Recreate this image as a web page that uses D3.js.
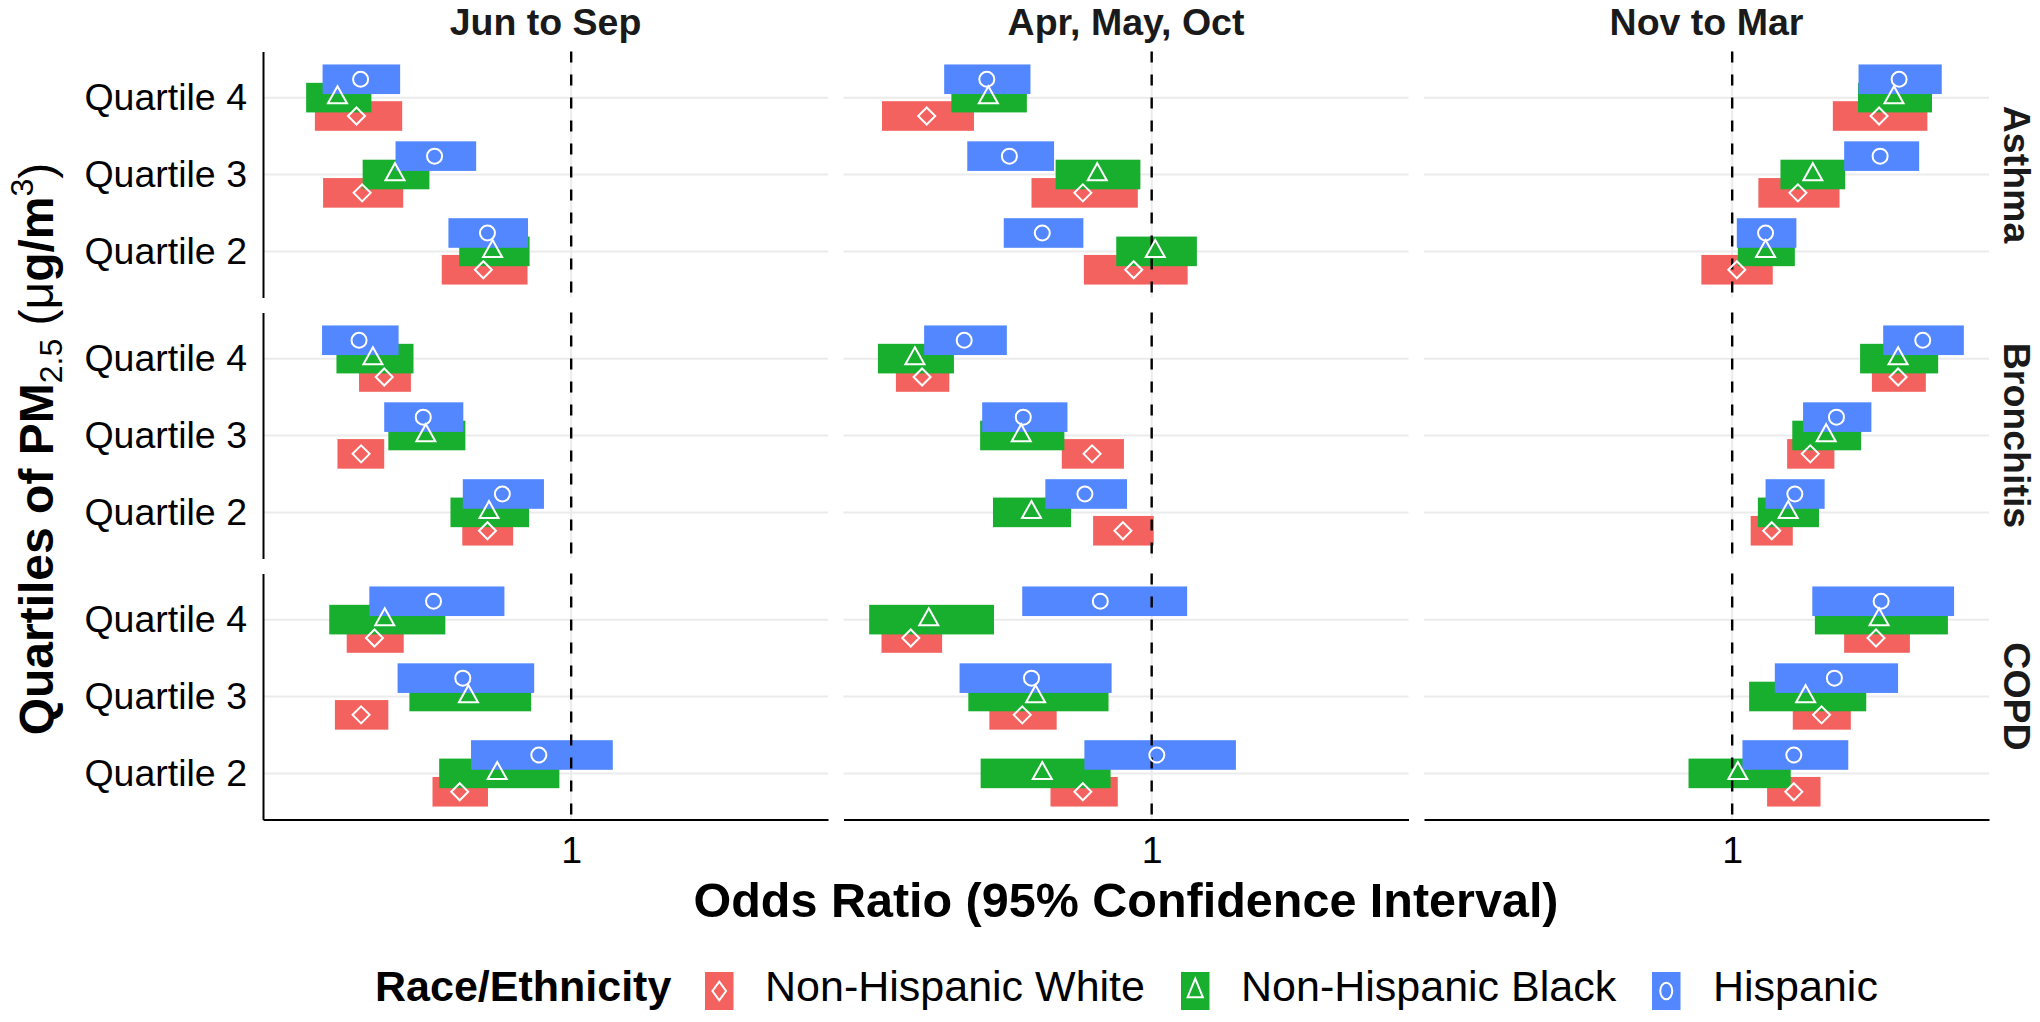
<!DOCTYPE html>
<html><head><meta charset="utf-8">
<script src="https://cdn.jsdelivr.net/npm/d3@7"></script>
<style>body{margin:0;background:#fff}svg{display:block}</style>
</head><body><svg id="c" width="2040" height="1022"></svg>
<script>
// ---------- data ----------
const seasons = ["Jun to Sep", "Apr, May, Oct", "Nov to Mar"];
const outcomes = ["Asthma", "Bronchitis", "COPD"];
const quartiles = ["Quartile 4", "Quartile 3", "Quartile 2"];
const groups = ["Non-Hispanic White", "Non-Hispanic Black", "Hispanic"];
const xTicks = [1];
// index = outcome*9 + season*3 + quartile (Q4,Q3,Q2)
const whiteEst = [
 0.9582, 0.9593, 0.9829, 0.9562, 0.9866, 0.9965, 1.0286, 1.0128, 1.0009,
 0.9636, 0.9591, 0.9837, 0.9553, 0.9884, 0.9944, 1.0323, 1.0152, 1.0077,
 0.9617, 0.9591, 0.9783, 0.9531, 0.9748, 0.9866, 1.0280, 1.0174, 1.0120];
const whiteLo = [
 0.9501, 0.9517, 0.9748, 0.9475, 0.9766, 0.9868, 1.0196, 1.0051, 0.9940,
 0.9587, 0.9545, 0.9788, 0.9502, 0.9825, 0.9886, 1.0272, 1.0107, 1.0036,
 0.9563, 0.9540, 0.9730, 0.9474, 0.9684, 0.9803, 1.0218, 1.0118, 1.0068];
const whiteHi = [
 0.9671, 0.9673, 0.9915, 0.9654, 0.9973, 1.0070, 1.0380, 1.0209, 1.0079,
 0.9688, 0.9636, 0.9887, 0.9606, 0.9946, 1.0004, 1.0377, 1.0199, 1.0118,
 0.9674, 0.9644, 0.9838, 0.9592, 0.9815, 0.9934, 1.0346, 1.0231, 1.0172];
const blackEst = [
 0.9545, 0.9657, 0.9847, 0.9682, 0.9894, 1.0007, 1.0315, 1.0157, 1.0065,
 0.9614, 0.9717, 0.9840, 0.9539, 0.9746, 0.9766, 1.0323, 1.0183, 1.0109,
 0.9637, 0.9800, 0.9856, 0.9566, 0.9774, 0.9787, 1.0286, 1.0143, 1.0011];
const blackLo = [
 0.9484, 0.9594, 0.9782, 0.9610, 0.9813, 0.9931, 1.0245, 1.0094, 1.0011,
 0.9543, 0.9644, 0.9765, 0.9467, 0.9666, 0.9691, 1.0249, 1.0117, 1.0050,
 0.9529, 0.9685, 0.9743, 0.9450, 0.9643, 0.9667, 1.0161, 1.0033, 0.9915];
const blackHi = [
 0.9611, 0.9724, 0.9919, 0.9757, 0.9978, 1.0088, 1.0389, 1.0220, 1.0122,
 0.9693, 0.9794, 0.9918, 0.9615, 0.9830, 0.9843, 1.0401, 1.0251, 1.0169,
 0.9755, 0.9922, 0.9977, 0.9693, 0.9916, 0.9920, 1.0420, 1.0261, 1.0114];
const hispEst = [
 0.9590, 0.9734, 0.9837, 0.9679, 0.9723, 0.9787, 1.0325, 1.0288, 1.0065,
 0.9587, 0.9712, 0.9866, 0.9635, 0.9750, 0.9870, 1.0371, 1.0203, 1.0122,
 0.9732, 0.9789, 0.9937, 0.9900, 0.9766, 1.0010, 1.0290, 1.0199, 1.0120];
const hispLo = [
 0.9516, 0.9658, 0.9761, 0.9596, 0.9641, 0.9712, 1.0246, 1.0218, 1.0009,
 0.9515, 0.9636, 0.9789, 0.9557, 0.9670, 0.9793, 1.0294, 1.0138, 1.0065,
 0.9607, 0.9662, 0.9805, 0.9748, 0.9626, 0.9869, 1.0156, 1.0083, 1.0020];
const hispHi = [
 0.9667, 0.9815, 0.9916, 0.9764, 0.9810, 0.9867, 1.0408, 1.0364, 1.0125,
 0.9664, 0.9790, 0.9947, 0.9718, 0.9836, 0.9952, 1.0451, 1.0271, 1.0180,
 0.9870, 0.9928, 1.0081, 1.0069, 0.9922, 1.0164, 1.0432, 1.0323, 1.0226];

// ---------- build rows ----------
const series = [
  {name: groups[0], est: whiteEst, lo: whiteLo, hi: whiteHi, color: "#F3625E", shape: "diamond"},
  {name: groups[1], est: blackEst, lo: blackLo, hi: blackHi, color: "#18AF2F", shape: "triangle"},
  {name: groups[2], est: hispEst,  lo: hispLo,  hi: hispHi,  color: "#5287FF", shape: "circle"}
];

// ---------- layout ----------
const FONT = "'Liberation Sans', Arial, Helvetica, sans-serif";
const svg = d3.select("#c").style("font-family", FONT);
svg.append("rect").attr("width", 2040).attr("height", 1022).attr("fill", "#fff");
const left0 = 263, panelW = 565, colGap = 15.5;
const top0 = 51.5, panelH = 246, rowGap = 15;
const x = d3.scaleLinear().domain([0.94, 1.05]).range([0, panelW]);
const y = d3.scalePoint().domain(quartiles).range([0, panelH]).padding(0.6);
const step = y.step();
const barH = 0.385 * step;
const dodge = 0.239 * step;

function marker(g, shape, cx, cy, k) {
  const sx = k[0], sy = k[1];
  if (shape === "circle") {
    g.append("ellipse").attr("cx", cx).attr("cy", cy).attr("rx", 7.5 * sx).attr("ry", 7.5 * sy)
      .attr("fill", "none").attr("stroke", "#fff").attr("stroke-width", 2);
  } else if (shape === "diamond") {
    const r = 8.5;
    g.append("path").attr("d", `M${cx},${cy - r * sy}L${cx + r * sx},${cy}L${cx},${cy + r * sy}L${cx - r * sx},${cy}Z`)
      .attr("fill", "none").attr("stroke", "#fff").attr("stroke-width", 2);
  } else {
    const w = 19 * sx, h = 17 * sy;
    g.append("path").attr("d", `M${cx},${cy - 2 * h / 3}L${cx + w / 2},${cy + h / 3}L${cx - w / 2},${cy + h / 3}Z`)
      .attr("fill", "none").attr("stroke", "#fff").attr("stroke-width", 2).attr("stroke-linejoin", "miter");
  }
}

outcomes.forEach((outcome, o) => {
  seasons.forEach((season, s) => {
    const px = left0 + s * (panelW + colGap), py = top0 + o * (panelH + rowGap);
    const g = svg.append("g").attr("transform", `translate(${px},${py})`);
    // grid
    g.selectAll(".gy").data(quartiles).join("line")
      .attr("x1", 0).attr("x2", panelW).attr("y1", d => y(d)).attr("y2", d => y(d))
      .attr("stroke", "#EBEBEB").attr("stroke-width", 2);
    g.selectAll(".gx").data(xTicks).join("line")
      .attr("x1", d => x(d)).attr("x2", d => x(d)).attr("y1", 0).attr("y2", panelH)
      .attr("stroke", "#EBEBEB").attr("stroke-width", 2);
    // bars
    series.forEach((sr, gi) => {
      const off = (1 - gi) * dodge;
      quartiles.forEach((q, qi) => {
        const i = o * 9 + s * 3 + qi;
        g.append("rect")
          .attr("x", x(sr.lo[i])).attr("width", x(sr.hi[i]) - x(sr.lo[i]))
          .attr("y", y(q) + off - barH / 2).attr("height", barH)
          .attr("fill", sr.color);
      });
    });
    // reference line
    g.selectAll(".vl").data(xTicks).join("line")
      .attr("x1", d => x(d)).attr("x2", d => x(d)).attr("y1", 0).attr("y2", panelH)
      .attr("stroke", "#000").attr("stroke-width", 2.4).attr("stroke-dasharray", "11,12");
    // points
    series.forEach((sr, gi) => {
      const off = (1 - gi) * dodge;
      quartiles.forEach((q, qi) => {
        const i = o * 9 + s * 3 + qi;
        marker(g, sr.shape, x(sr.est[i]), y(q) + off, [1, 1]);
      });
    });
    // axes
    if (s === 0) {
      const ax = g.append("g").call(d3.axisLeft(y).tickSize(0).tickPadding(16));
      ax.select(".domain").attr("stroke", "#000").attr("stroke-width", 2);
      ax.selectAll("text").attr("font-size", 37.5).attr("fill", "#000").attr("font-family", FONT);
    }
    if (o === outcomes.length - 1) {
      const ax = g.append("g").attr("transform", `translate(0,${panelH})`)
        .call(d3.axisBottom(x).tickValues(xTicks).tickFormat(d3.format("d")).tickSize(0).tickPadding(17));
      ax.select(".domain").attr("stroke", "#000").attr("stroke-width", 2);
      ax.selectAll("text").attr("font-size", 37.5).attr("fill", "#000").attr("font-family", FONT);
    }
    // strips
    if (o === 0) {
      svg.append("text").attr("x", px + panelW / 2).attr("y", 35).attr("text-anchor", "middle")
        .attr("font-size", 37.5).attr("font-weight", "bold").attr("fill", "#1a1a1a").text(season);
    }
    if (s === seasons.length - 1) {
      svg.append("text").attr("transform", `translate(${px + panelW + 28},${py + panelH / 2}) rotate(90)`)
        .attr("text-anchor", "middle").attr("dominant-baseline", "central")
        .attr("font-size", 37.5).attr("font-weight", "bold").attr("fill", "#1a1a1a").text(outcome);
    }
  });
});

// axis titles
const plotCx = left0 + (3 * panelW + 2 * colGap) / 2;
svg.append("text").attr("x", plotCx).attr("y", 917).attr("text-anchor", "middle")
  .attr("font-size", 48.5).attr("font-weight", "bold").attr("fill", "#000")
  .text("Odds Ratio (95% Confidence Interval)");

const yt = svg.append("text").attr("transform", `translate(53,449) rotate(-90)`)
  .attr("text-anchor", "middle").attr("font-size", 48).attr("fill", "#000");
yt.append("tspan").attr("font-weight", "bold").text("Quartiles of PM");
yt.append("tspan").attr("font-size", 32).attr("dy", 9).text("2.5");
yt.append("tspan").attr("dy", -9).text(" (");
yt.append("tspan").text("\u03BC");
yt.append("tspan").attr("font-weight", "bold").text("g/m");
yt.append("tspan").attr("font-size", 32).attr("dy", -20).text("3");
yt.append("tspan").attr("dy", 20).text(")");

// legend
svg.append("text").attr("x", 375).attr("y", 1001).attr("font-size", 43).attr("font-weight", "bold")
  .attr("fill", "#000").text("Race/Ethnicity");
const keyX = [705, 1181, 1652], labX = [765, 1241, 1713];
series.forEach((sr, gi) => {
  const lg = svg.append("g");
  lg.append("rect").attr("x", keyX[gi]).attr("y", 972).attr("width", 28.5).attr("height", 38).attr("fill", sr.color);
  marker(lg, sr.shape, keyX[gi] + 14.25, 991, [0.8, 1.1]);
  svg.append("text").attr("x", labX[gi]).attr("y", 1001).attr("font-size", 43).attr("fill", "#000").text(sr.name);
});
</script>
</body></html>
